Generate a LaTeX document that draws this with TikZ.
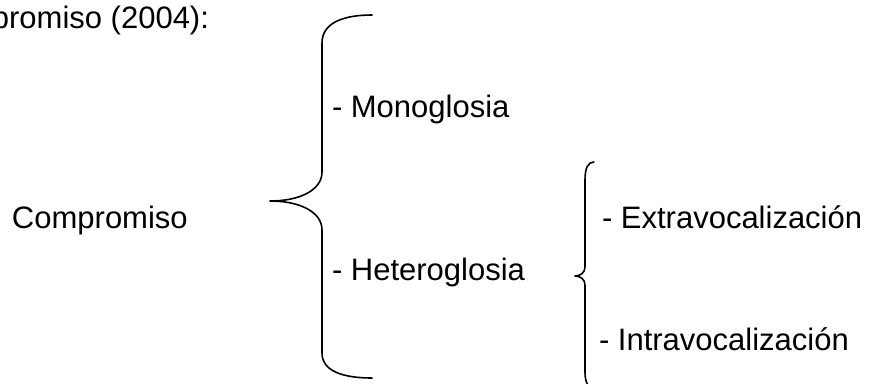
\documentclass[tikz,border=0pt]{standalone}
\usepackage{fontspec}
\setmainfont{Liberation Sans}
\begin{document}
\begin{tikzpicture}[x=1pt,y=-1pt,
  lbl/.style={inner sep=0pt,outer sep=0pt,font=\fontsize{31}{37}\selectfont},
  brace/.style={line width=1.6pt,line cap=round,line join=round}]
\useasboundingbox (0,0) rectangle (872,383);
\clip (0,0) rectangle (872,383);
% texts
\node[lbl,anchor=base east] (title) at (209,28) {Compromiso (2004):};
\node[lbl,anchor=base west] (comp) at (12,228) {Compromiso};
\node[lbl,anchor=base west] (mono) at (332,117) {- Monoglosia};
\node[lbl,anchor=base west] (hete) at (332,280) {- Heteroglosia};
\node[lbl,anchor=base west] (extra) at (602,228) {- Extravocalización};
\node[lbl,anchor=base west] (intra) at (599,350) {- Intravocalización};
% big brace
\draw[brace] (372,15) .. controls (345,15) and (322,22) .. (322,43)
  -- (322,172) .. controls (322,190) and (300,201) .. (270,201)
  .. controls (300,201) and (322,212) .. (322,230)
  -- (322,353) .. controls (322,372) and (345,378) .. (372,378);
% small brace
\draw[brace] (594,162) .. controls (588,162) and (585,168) .. (585,180)
  -- (585,267) .. controls (585,273) and (580,276) .. (575,276)
  .. controls (580,276) and (585,279) .. (585,285)
  -- (585,372) .. controls (585,382) and (588,388) .. (594,390);
\end{tikzpicture}
\end{document}
